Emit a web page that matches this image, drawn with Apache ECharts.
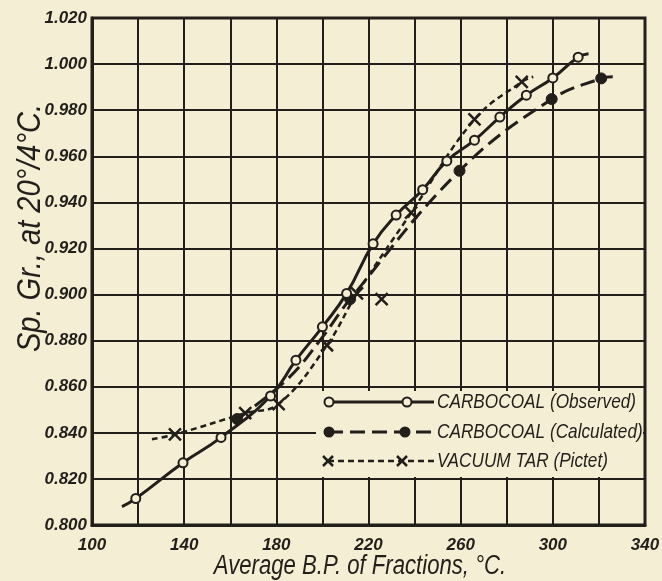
<!DOCTYPE html>
<html><head><meta charset="utf-8">
<script src="https://cdn.jsdelivr.net/npm/echarts@6/dist/echarts.min.js"></script>
<style>html,body{margin:0;padding:0;background:#f3eed4;}#c{width:662px;height:581px;}</style>
</head><body><div id="c"></div>
<script>
// Carbocoal (Observed)
const obsT  = [113, 119, 139.5, 156, 177.5, 188.5, 200, 210.5, 222, 232, 243.5, 254, 266, 277, 288.5, 300, 311, 315.5];
const obsSG = [0.808, 0.8115, 0.827, 0.838, 0.856, 0.8715, 0.886, 0.9005, 0.922, 0.9345, 0.9455, 0.958, 0.967, 0.977, 0.9865, 0.994, 1.003, 1.0045];
const obsMeasured = [0,1,1,1,1,1,1,1,1,1,1,1,1,1,1,1,1,0];
// Carbocoal (Calculated)
const calcT  = [163, 185, 200, 212, 259.5, 299.5, 321, 326];
const calcSG = [0.846, 0.8635, 0.8815, 0.898, 0.9537, 0.9848, 0.9938, 0.9945];
const calcMeasured = [1,0,0,1,1,1,1,0];
// Vacuum tar (Pictet)
const tarT  = [126, 136, 166.5, 181, 202, 215, 238.5, 266, 286.5, 291.5];
const tarSG = [0.8372, 0.8393, 0.8485, 0.8525, 0.878, 0.9005, 0.9355, 0.976, 0.9923, 0.9945];
const tarMeasured = [0,1,1,1,1,1,1,1,1,0];
const tarOffT  = [225.7];
const tarOffSG = [0.898];

const xTicks = [100, 140, 180, 220, 260, 300, 340];
const legendNames = ['CARBOCOAL (Observed)', 'CARBOCOAL (Calculated)', 'VACUUM TAR (Pictet)'];
const xTitle = 'Average B.P. of Fractions, °C.';
const yTitle = 'Sp. Gr., at 20°/4°C.';

const INK = '#221e19', BG = '#f3eed4';
const SANS = '"Liberation Sans",Arial,sans-serif';
const XSYM = 'path://M0,0L10,10M10,0L0,10';

function pts(T, S, M, sym) {
  return T.map((t, i) => ({ value: [t, S[i]], symbol: M[i] ? sym : 'none' }));
}

const chart = echarts.init(document.getElementById('c'), null, { renderer: 'canvas' });
const option = {
  backgroundColor: BG,
  animation: false,
  grid: { left: 92, top: 18, right: 17, bottom: 56, show: true, borderColor: INK, borderWidth: 3,
          backgroundColor: 'transparent', containLabel: false, outerBoundsMode: 'none' },
  xAxis: {
    type: 'value', min: 100, max: 340, interval: 20,
    axisLine: { show: true, lineStyle: { color: INK, width: 3 } },
    axisTick: { show: false },
    splitLine: { show: true, lineStyle: { color: INK, width: 2 } },
    axisLabel: {
      color: INK, fontSize: 17, fontStyle: 'italic', fontWeight: 'bold', fontFamily: SANS, margin: 12,
      formatter: v => xTicks.indexOf(Math.round(v)) >= 0 ? String(Math.round(v)) : ''
    }
  },
  yAxis: {
    type: 'value', min: 0.8, max: 1.02, interval: 0.02,
    axisLine: { show: true, lineStyle: { color: INK, width: 3 } },
    axisTick: { show: false },
    splitLine: { show: true, lineStyle: { color: INK, width: 2 } },
    axisLabel: {
      color: INK, fontSize: 17, fontStyle: 'italic', fontWeight: 'bold', fontFamily: SANS, margin: 5,
      formatter: v => v.toFixed(3)
    }
  },
  series: [
    {
      name: legendNames[0], type: 'line', smooth: 0.5, z: 4,
      data: pts(obsT, obsSG, obsMeasured, 'circle'), symbolSize: 9,
      lineStyle: { color: INK, width: 3 },
      itemStyle: { color: BG, borderColor: INK, borderWidth: 2 }
    },
    {
      name: legendNames[1], type: 'line', smooth: 0.4, z: 3,
      data: pts(calcT, calcSG, calcMeasured, 'circle'), symbolSize: 11,
      lineStyle: { color: INK, width: 3, type: [15, 7] },
      itemStyle: { color: INK, borderColor: INK, borderWidth: 1 }
    },
    {
      name: legendNames[2], type: 'line', smooth: 0.4, z: 3,
      data: pts(tarT, tarSG, tarMeasured, XSYM), symbolSize: 12,
      lineStyle: { color: INK, width: 2.5, type: [6, 4] },
      itemStyle: { color: INK, borderColor: INK, borderWidth: 2.5 }
    },
    {
      name: legendNames[2] + ' ', type: 'scatter', z: 3,
      data: tarOffT.map((t, i) => [t, tarOffSG[i]]), symbol: XSYM, symbolSize: 12,
      itemStyle: { color: INK, borderColor: INK, borderWidth: 2.5, opacity: 1 }
    }
  ],
  graphic: [
    { type: 'rect', z: 1, shape: { x: 316, y: 391, width: 327, height: 86 }, style: { fill: BG } },
    { type: 'line', z: 10, shape: { x1: 328, y1: 402, x2: 434, y2: 402 }, style: { stroke: INK, lineWidth: 3 } },
    { type: 'circle', z: 11, shape: { cx: 329, cy: 402, r: 4.5 }, style: { fill: BG, stroke: INK, lineWidth: 2 } },
    { type: 'circle', z: 11, shape: { cx: 407, cy: 402, r: 4.5 }, style: { fill: BG, stroke: INK, lineWidth: 2 } },
    { type: 'text', z: 11, x: 437, y: 402, scaleX: 0.82, style: { text: legendNames[0], fill: INK, font: 'italic 21px ' + SANS, verticalAlign: 'middle' } },

    { type: 'line', z: 10, shape: { x1: 328, y1: 432, x2: 434, y2: 432 }, style: { stroke: INK, lineWidth: 3, lineDash: [15, 7] } },
    { type: 'circle', z: 11, shape: { cx: 329, cy: 432, r: 5.5 }, style: { fill: INK } },
    { type: 'circle', z: 11, shape: { cx: 405, cy: 432, r: 5.5 }, style: { fill: INK } },
    { type: 'text', z: 11, x: 437, y: 432, scaleX: 0.82, style: { text: legendNames[1], fill: INK, font: 'italic 21px ' + SANS, verticalAlign: 'middle' } },

    { type: 'line', z: 10, shape: { x1: 328, y1: 461, x2: 434, y2: 461 }, style: { stroke: INK, lineWidth: 2.5, lineDash: [6, 4] } },
    { type: 'polyline', z: 11, shape: { points: [[323, 456], [333, 466]] }, style: { stroke: INK, lineWidth: 2.5 } },
    { type: 'polyline', z: 11, shape: { points: [[333, 456], [323, 466]] }, style: { stroke: INK, lineWidth: 2.5 } },
    { type: 'polyline', z: 11, shape: { points: [[397, 456], [407, 466]] }, style: { stroke: INK, lineWidth: 2.5 } },
    { type: 'polyline', z: 11, shape: { points: [[407, 456], [397, 466]] }, style: { stroke: INK, lineWidth: 2.5 } },
    { type: 'text', z: 11, x: 437, y: 461, scaleX: 0.82, style: { text: legendNames[2], fill: INK, font: 'italic 21px ' + SANS, verticalAlign: 'middle' } },

    { type: 'text', z: 11, x: 360, y: 566, scaleX: 0.82,
      style: { text: xTitle, fill: INK, font: 'italic 27px ' + SANS, align: 'center', verticalAlign: 'middle' } },
    { type: 'text', z: 11, x: 31, y: 228, rotation: Math.PI / 2, scaleX: 0.88,
      style: { text: yTitle, fill: INK, font: 'italic 33px ' + SANS, align: 'center', verticalAlign: 'middle' } }
  ]
};
chart.setOption(option);
</script></body></html>
